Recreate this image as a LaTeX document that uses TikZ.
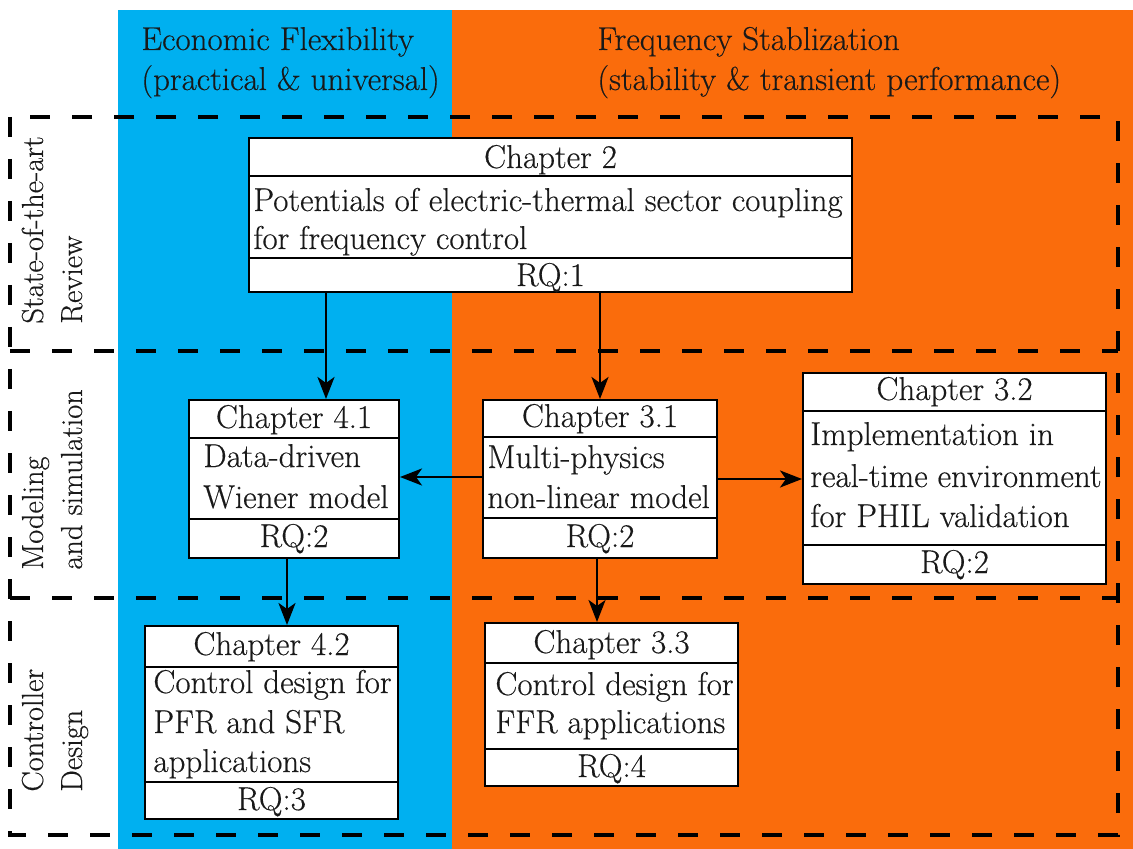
\documentclass[tikz,border=0pt]{standalone}
\usepackage{fontspec}
\setmainfont{Latin Modern Roman}[UprightFeatures={FakeBold=0.35}]
\usetikzlibrary{arrows.meta,fit}
\definecolor{bandblue}{RGB}{0,176,240}
\definecolor{bandorange}{RGB}{250,108,12}
\begin{document}
\begin{tikzpicture}[x=0.5pt,y=-0.5pt,
  box/.style={draw=black,line width=1pt,fill=white,inner sep=0pt},
  div/.style={draw=black,line width=1pt},
  txt/.style={inner sep=0pt,font=\rmfamily\fontsize{16.5}{20}\selectfont,text=black!90},
  ttl/.style={txt,anchor=base},
  ln/.style={txt,anchor=base west},
  side/.style={txt,font=\rmfamily\fontsize{15.2}{20}\selectfont,rotate=90,anchor=base west},
  arr/.style={draw=black,line width=1.4pt,-{Stealth[length=11pt,width=8.5pt,inset=3pt]}},
  dashline/.style={draw=black,line width=1.8pt,dash pattern=on 10pt off 11pt}]
\useasboundingbox (0,0) rectangle (1133,849);
% bands
\fill[bandblue] (118,10) rectangle (452,849);
\fill[bandorange] (452,10) rectangle (1133,849);
% headers
\node[ln] (h1a) at (141,50) {Economic Flexibility};
\node[ln] (h1b) at (141,90) {(practical \& universal)};
\node[ln] (h2a) at (597,50) {Frequency Stablization};
\node[ln] (h2b) at (597,90) {(stability \& transient performance)};
% dashed frame
\draw[dashline] (10,117) rectangle (1118,835);
\draw[dashline] (10,351) -- (1118,351);
\draw[dashline] (10,598) -- (1118,598);
% side labels
\node[side] (s1a) at (43,324) {State-of-the-art};
\node[side] (s1b) at (82,324) {Review};
\node[side] (s2a) at (43,570) {Modeling};
\node[side] (s2b) at (82,570) {and simulation};
\node[side] (s3a) at (43,792) {Controller};
\node[side] (s3b) at (82,792) {Design};
% Chapter 2
\node[box,fit={(249,138)(852,292)}] (c2) {};
\draw[div] (249,176) -- (852,176);
\draw[div] (249,258) -- (852,258);
\node[ttl] (c2t) at (550.5,168) {Chapter 2};
\node[ln] (c2l1) at (253,211) {Potentials of electric-thermal sector coupling};
\node[ln] (c2l2) at (253,249) {for frequency control};
\node[ttl] (c2r) at (550.5,286) {RQ:1};
% Chapter 4.1
\node[box,fit={(189,400)(399,558)}] (c41) {};
\draw[div] (189,438) -- (399,438);
\draw[div] (189,519) -- (399,519);
\node[ttl] (c41t) at (294,428) {Chapter 4.1};
\node[ln] (c41l1) at (203,467) {Data-driven};
\node[ln] (c41l2) at (203,508) {Wiener model};
\node[ttl] (c41r) at (294,547) {RQ:2};
% Chapter 3.1
\node[box,fit={(483,400)(717,558)}] (c31) {};
\draw[div] (483,437) -- (717,437);
\draw[div] (483,518) -- (717,518);
\node[ttl] (c31t) at (600,427) {Chapter 3.1};
\node[ln] (c31l1) at (487,468) {Multi-physics};
\node[ln] (c31l2) at (487,508) {non-linear model};
\node[ttl] (c31r) at (600,547) {RQ:2};
% Chapter 3.2
\node[box,fit={(803,373)(1106,584)}] (c32) {};
\draw[div] (803,411) -- (1106,411);
\draw[div] (803,545) -- (1106,545);
\node[ttl] (c32t) at (954.5,400) {Chapter 3.2};
\node[ln] (c32l1) at (810,445) {Implementation in};
\node[ln] (c32l2) at (810,487) {real-time environment};
\node[ln] (c32l3) at (810,527) {for PHIL validation};
\node[ttl] (c32r) at (954.5,573) {RQ:2};
% Chapter 4.2
\node[box,fit={(145,626)(398,819)}] (c42) {};
\draw[div] (145,667) -- (398,667);
\draw[div] (145,782) -- (398,782);
\node[ttl] (c42t) at (271.5,655) {Chapter 4.2};
\node[ln] (c42l1) at (153,693) {Control design for};
\node[ln] (c42l2) at (153,733) {PFR and SFR};
\node[ln] (c42l3) at (153,772) {applications};
\node[ttl] (c42r) at (271.5,810) {RQ:3};
% Chapter 3.3
\node[box,fit={(485,623)(738,786)}] (c33) {};
\draw[div] (485,663) -- (738,663);
\draw[div] (485,749) -- (738,749);
\node[ttl] (c33t) at (611.5,653) {Chapter 3.3};
\node[ln] (c33l1) at (495,695) {Control design for};
\node[ln] (c33l2) at (495,733) {FFR applications};
\node[ttl] (c33r) at (611.5,777) {RQ:4};
% connector columns
\coordinate (xa) at (326,0);
\coordinate (xb) at (600,0);
\coordinate (xc) at (287,0);
\coordinate (xd) at (597,0);
\coordinate (ya) at (0,477);
\coordinate (yb) at (0,479);
% connectors
\draw[arr] (c2.south -| xa) -- (c41.north -| xa);
\draw[arr] (c2.south -| xb) -- (c31.north -| xb);
\draw[arr] (c31.west |- ya) -- (c41.east |- ya);
\draw[arr] (c31.east |- yb) -- (c32.west |- yb);
\draw[arr] (c41.south -| xc) -- (c42.north -| xc);
\draw[arr] (c31.south -| xd) -- (c33.north -| xd);
\end{tikzpicture}
\end{document}
